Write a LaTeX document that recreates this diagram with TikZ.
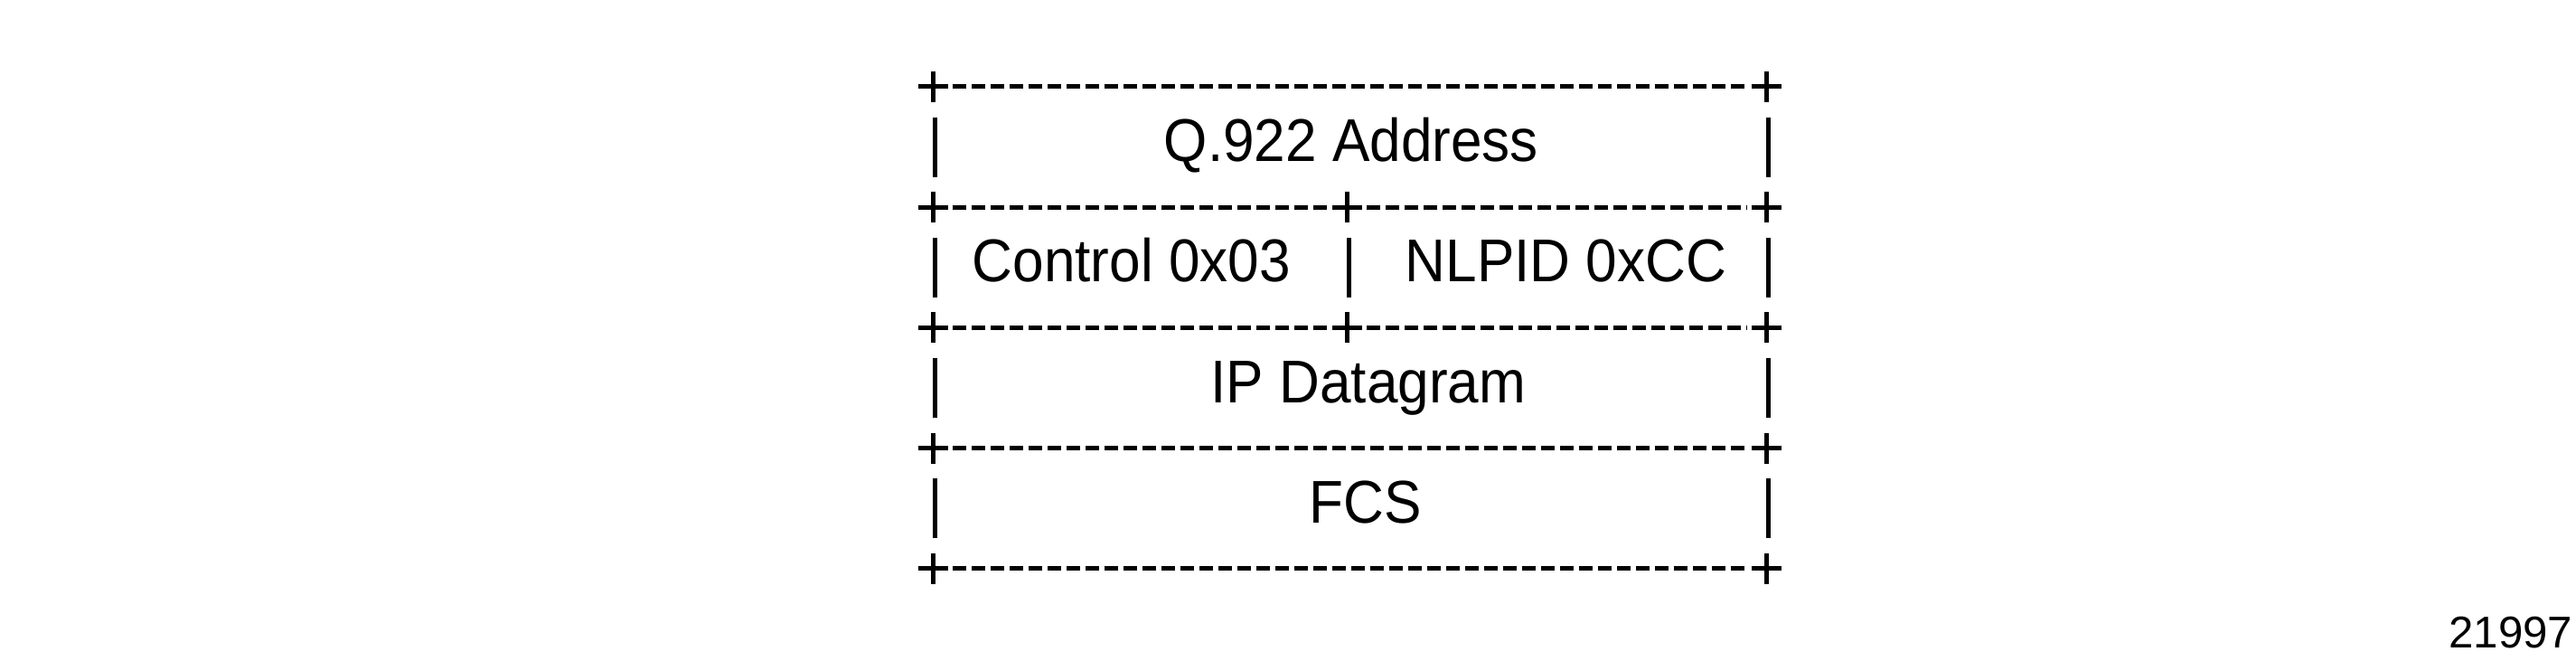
\documentclass[tikz,border=0pt]{standalone}
\usepackage{fontspec}
\setmainfont[FakeStretch=0.93]{Liberation Sans}
\newfontfamily\tagfont{Liberation Sans}
\usetikzlibrary{positioning}
\usetikzlibrary{calc}

\begin{document}
\begin{tikzpicture}[
                    field/.style={anchor=base west, inner sep=0pt, font=\fontsize{19}{19}\selectfont},
                    rule/.style={line width=0.05cm, dash pattern=on 0.15cm off 0.06cm},
                    bar/.style={line width=0.05cm},
                    plus/.pic={\draw[line width=0.05cm] (-0.165,0) -- (0.165,0) (0,-0.17) -- (0,0.17);}
                ]
                \useasboundingbox (0,0) rectangle (28.5,7.31);
                % corners of the frame
                \foreach \r/\y in {0/6.35, 1/5.0175, 2/3.685, 3/2.3525, 4/1.02}{
                    \coordinate (l\r) at (10.32,\y);
                    \coordinate (m\r) at (14.90,\y);
                    \coordinate (r\r) at (19.54,\y);
                }
                % full width rules
                \foreach \r in {0,3,4}{
                    \pic at (l\r) {plus};
                    \pic at (r\r) {plus};
                    \draw[rule] ([xshift=0.22cm]l\r) -- ([xshift=-0.21cm]r\r);
                }
                % split rules
                \foreach \r in {1,2}{
                    \pic at (l\r) {plus};
                    \pic at (m\r) {plus};
                    \pic at (r\r) {plus};
                    \draw[rule] ([xshift=0.22cm]l\r) -- ([xshift=-0.21cm]m\r);
                    \draw[rule] ([xshift=0.22cm]m\r) -- ([xshift=-0.21cm]r\r);
                }
                % side bars
                \foreach \a/\b in {0/1,1/2,2/3,3/4}{
                    \draw[bar] ($(l\a)!0.5!(l\b)+(0.025,0.33)$) -- ($(l\a)!0.5!(l\b)+(0.025,-0.33)$);
                    \draw[bar] ($(r\a)!0.5!(r\b)+(0.025,0.33)$) -- ($(r\a)!0.5!(r\b)+(0.025,-0.33)$);
                }
                \draw[bar] ($(m1)!0.5!(m2)+(0.025,0.33)$) -- ($(m1)!0.5!(m2)+(0.025,-0.33)$);

                \node[field] (addr) at (12.87,5.524) {Q.922 Address};
                \node[field] (ctrl) at (10.75,4.191) {Control 0x03};
                \node[field] (nlpid) at (15.54,4.191) {NLPID 0xCC};
                \node[field] (ipdg) at (13.39,2.859) {IP Datagram};
                \node[field] (fcs) at (14.48,1.526) {FCS};
                \node[anchor=base east, inner sep=0pt, font=\tagfont\fontsize{14}{14}\selectfont] (figno) at (28.47,0.14) {21997};
            \end{tikzpicture}
\end{document}
